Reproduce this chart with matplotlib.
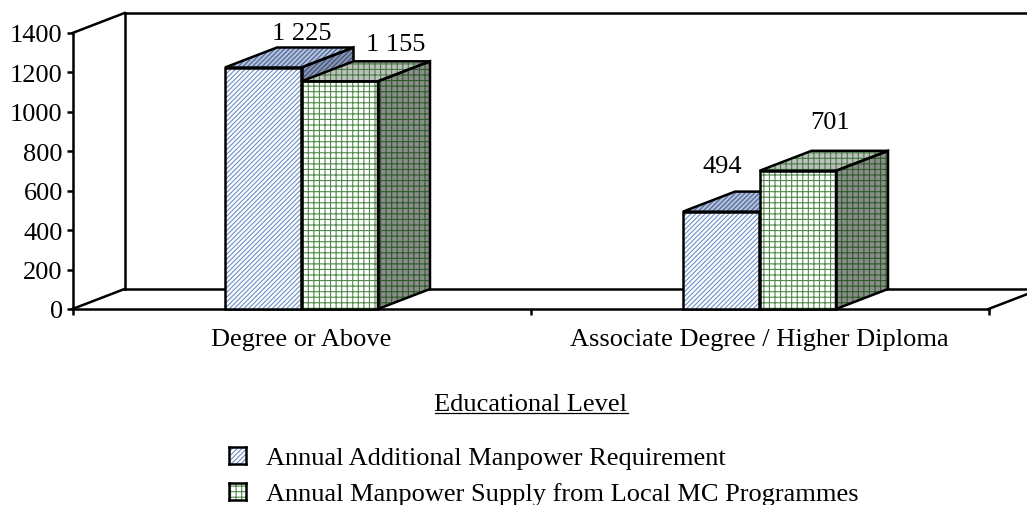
import matplotlib
matplotlib.use("Agg")
import matplotlib.pyplot as plt
from matplotlib.patches import Polygon, Rectangle

categories = ["Degree or Above", "Associate Degree / Higher Diploma"]
series_names = ["Annual Additional Manpower Requirement",
                "Annual Manpower Supply from Local MC Programmes"]
requirement = [1225, 494]
supply = [1155, 701]
value_labels = [["1 225", "494"], ["1 155", "701"]]
y_ticks = [0, 200, 400, 600, 800, 1000, 1200, 1400]

# pixel offsets of the value labels from the top centre of each bar
label_offsets = [[(38, 34.5), (1, 45.5)], [(56, 37.5), (32, 48.5)]]

W, H = 1027, 506
plt.rcParams['font.family'] = ['Liberation Serif', 'DejaVu Sans']
plt.rcParams['hatch.linewidth'] = 0.8

fig = plt.figure(figsize=(W / 100, H / 100), dpi=100)
ax = fig.add_axes([72.5 / W, 1 - 310 / H, 916 / W, 276 / H])
ax.set_xlim(0, 2)
ax.set_ylim(0, 1400)
ax.patch.set_visible(False)

# depth of the fake 3d box, in data units
dx = 52 / 458
dy = 20 / (276 / 1400)
bar_w = 76.5 / 458
lw = 1.8
fs = 19

for s in ['top', 'right']:
    ax.spines[s].set_visible(False)
for s in ['left', 'bottom']:
    ax.spines[s].set_linewidth(lw)
    ax.spines[s].set_zorder(1)


def line(xs, ys):
    ax.plot(xs, ys, color='black', lw=lw, clip_on=False, zorder=1, solid_capstyle='projecting')


# walls and floor
line([0, dx], [1400, 1400 + dy])
line([dx, 2.3], [1400 + dy, 1400 + dy])
line([dx, dx], [dy, 1400 + dy])
line([0, dx], [0, dy])
line([dx, 2.3], [dy, dy])
line([2, 2 + dx], [0, dy])


def face(pts, fc, hatch_col, hatch, z):
    ax.add_patch(Polygon(pts, closed=True, facecolor=fc, edgecolor=hatch_col, hatch=hatch,
                         lw=0, clip_on=False, zorder=z))
    ax.add_patch(Polygon(pts, closed=True, fill=False, edgecolor='black', lw=lw,
                         clip_on=False, zorder=z + 0.1, joinstyle='miter'))


def bar3d(x, v, colors, hatch_cols, hatch, z):
    x2 = x + bar_w
    face([(x2, 0), (x2 + dx, dy), (x2 + dx, v + dy), (x2, v)], colors[2], hatch_cols[2], hatch, z)
    face([(x, v), (x2, v), (x2 + dx, v + dy), (x + dx, v + dy)], colors[1], hatch_cols[1], hatch, z)
    face([(x, 0), (x2, 0), (x2, v), (x, v)], colors[0], hatch_cols[0], hatch, z)


blue_fc = ['white', '#b4bfd8', '#8a93ac']
blue_hc = ['#6c8ec8', '#46629a', '#39507e']
green_fc = ['white', '#bcc0bc', '#8a8e8a']
green_hc = ['#4f8a4a', '#4a7a46', '#2f5a2c']

for i, (a, b) in enumerate(zip(requirement, supply)):
    centre = i + 0.5
    bar3d(centre - bar_w, a, blue_fc, blue_hc, '///////', 2 + i * 2)
    bar3d(centre, b, green_fc, green_hc, '+++', 3 + i * 2)
    for j, (val, x) in enumerate([(a, centre - bar_w / 2), (b, centre + bar_w / 2)]):
        ax.annotate(value_labels[j][i], xy=(x, val),
                    xytext=(label_offsets[j][i][0] * 0.72, label_offsets[j][i][1] * 0.72),
                    textcoords='offset points', ha='center', va='center',
                    fontsize=fs, color='black', annotation_clip=False, zorder=10)

ax.set_yticks(y_ticks)
ax.set_xticks([0, 1, 2])
ax.set_xticklabels([])
ax.tick_params(axis='both', width=lw, length=4.5, labelsize=fs, pad=2.5)
for i, c in enumerate(categories):
    ax.text(i + 0.5, -30 / (276 / 1400), c, ha='center', va='center', fontsize=fs)

fig.text(531 / W, 1 - 405 / H, "Educational Level", ha='center', va='center', fontsize=fs)
fig.add_artist(plt.Line2D([435 / W, 628 / W], [1 - 414 / H] * 2, color='black', lw=0.9))

legend_y = [456.5, 492.5]
legend_hatch = [('#6c8ec8', '///////'), ('#4f8a4a', '+++')]
for y, (col, hatch), name in zip(legend_y, legend_hatch, series_names):
    box = fig.add_axes([229 / W, 1 - (y + 8.5) / H, 17 / W, 17 / H])
    box.set_xticks([])
    box.set_yticks([])
    box.add_patch(Rectangle((0, 0), 1, 1, facecolor='white', edgecolor=col, hatch=hatch, lw=0))
    for s in box.spines.values():
        s.set_linewidth(lw)
    fig.text(266 / W, 1 - (y + 2.5) / H, name, ha='left', va='center', fontsize=fs)

fig.savefig("out.png", dpi=100)
